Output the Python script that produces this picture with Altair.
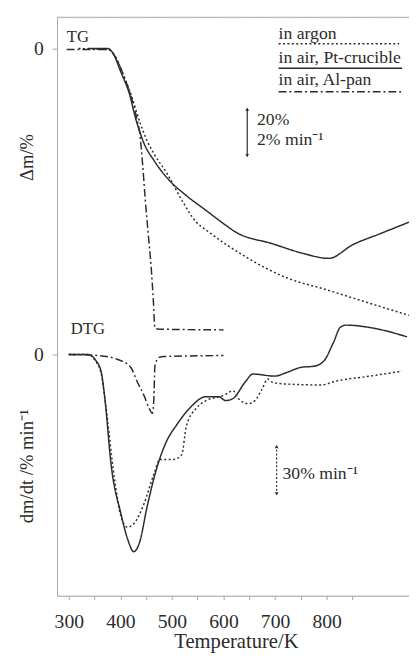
import altair as alt
import pandas as pd

FONT = "'Liberation Serif', 'Times New Roman', Times, serif"
INK = "#2b2b2b"
AXIS = "#a8a8a8"

# ---------- data ----------
# TG: temperature / K, mass change / %
tg_argon_T = [319, 376, 391, 406, 422, 439, 452, 465, 490, 522, 547, 566, 648, 724, 794, 903, 960]
tg_argon_v = [0, -0.4, -3.5, -10.6, -19.2, -30.2, -36.9, -42.0, -49.8, -61.6, -69.4, -72.5, -83.9, -91.8, -96.1, -103.1, -106.7]

tg_air_T = [338, 376, 386, 401, 418, 429, 437, 446, 465, 494, 528, 566, 604, 623, 694, 756, 804, 851, 903, 960]
tg_air_v = [0, 0, -2.0, -9.4, -18.4, -27.5, -32.9, -38.0, -44.7, -52.5, -58.8, -64.7, -70.6, -73.3, -78.0, -82.0, -83.9, -78.4, -74.1, -69.4]

tg_al_T = [296, 338, 376, 391, 406, 422, 433, 437, 443, 448, 454, 460, 464, 467, 475, 600]
tg_al_v = [-0.4, -0.4, -0.4, -3.5, -10.6, -20.0, -29.0, -32.9, -45.9, -59.6, -74.1, -88.2, -100.8, -111.8, -112.2, -112.5]

# DTG: temperature / K, dm/dt / % min-1
dtg_air_T = [300, 338, 351, 363, 370, 382, 401, 414, 426, 437, 452, 471, 490, 509, 534, 566, 591, 604, 618, 642,
             657, 699, 724, 751, 775, 794, 813, 827, 838, 889, 956]
dtg_air_v = [0, 0, -2.9, -10.4, -26.0, -64.6, -93.5, -108.5, -116.0, -110.8, -89.4, -66.4, -50.8, -41.5, -31.7,
             -24.8, -24.8, -27.1, -26.0, -16.2, -11.5, -12.7, -10.4, -7.5, -6.9, -4.0, 6.9, 16.2, 17.3, 15.6, 10.4]

dtg_argon_T = [300, 338, 351, 363, 370, 389, 401, 414, 427, 446, 465, 477, 503, 519, 528, 547, 566, 599, 619, 629,
               648, 661, 675, 686, 694, 718, 789, 819, 884, 946]
dtg_argon_v = [0, 0, -3.5, -11.5, -26.0, -73.9, -95.2, -101.6, -99.2, -87.7, -70.4, -61.7, -61.7, -58.9, -42.1,
               -31.7, -27.1, -24.2, -21.4, -26.0, -28.9, -27.1, -20.2, -14.4, -16.2, -17.3, -17.9, -15.6, -12.7, -9.8]

dtg_al_T = [300, 357, 395, 420, 433, 446, 456, 462, 465, 467, 475, 484, 600]
dtg_al_v = [0, -0.6, -2.9, -7.5, -16.2, -24.2, -31.7, -34.6, -26.0, -6.9, -1.7, -1.2, -0.6]

series_names = ["in argon", "in air, Pt-crucible", "in air, Al-pan"]
x_ticks = [300, 350, 400, 450, 500, 550, 600, 650, 700, 750, 800, 850]

# DTG curves share the plot with TG: placed below with their own zero and scale
DTG_OFFSET = -122.35      # where DTG zero sits, in TG % units
DTG_FACTOR = 0.6796       # (%/min) -> TG % units (30 %/min arrow vs 20 % arrow)

rows = []
def add(kind, name, T, v):
    for i, (t, val) in enumerate(zip(T, v)):
        y = val if kind == "TG" else DTG_OFFSET + val * DTG_FACTOR
        rows.append({"T": t, "y": y, "series": name, "curve": kind + name, "i": i})

add("TG", series_names[0], tg_argon_T, tg_argon_v)
add("TG", series_names[1], tg_air_T, tg_air_v)
add("TG", series_names[2], tg_al_T, tg_al_v)
add("DTG", series_names[0], dtg_argon_T, dtg_argon_v)
add("DTG", series_names[1], dtg_air_T, dtg_air_v)
add("DTG", series_names[2], dtg_al_T, dtg_al_v)
df = pd.DataFrame(rows)

W, H = 359, 590
dash_range = [[2, 2.5], [1, 0], [8, 3, 2, 3]]

lines = alt.Chart(df).mark_line(clip=True, strokeWidth=1.5, color=INK, interpolate="monotone").encode(
    x=alt.X("T:Q", scale=alt.Scale(domain=[277.2, 959.7], nice=False, zero=False),
            axis=alt.Axis(values=x_ticks, title=None, grid=False,
                          labelExpr="(datum.value % 100 == 0 && datum.value <= 800) ? datum.label : ''",
                          tickSize=4, tickColor=AXIS, domainColor=AXIS, labelFont=FONT, labelFontSize=20,
                          labelColor=INK, labelPadding=12, labelFontWeight="normal")),
    y=alt.Y("y:Q", scale=alt.Scale(domain=[-218.8, 12.5], nice=False, zero=False),
            axis=alt.Axis(values=[0, DTG_OFFSET], labelExpr="'0'", title=None, grid=False,
                          tickSize=5, tickColor=AXIS, domainColor=AXIS, labelFont=FONT, labelFontSize=20,
                          labelColor=INK, labelPadding=9)),
    strokeDash=alt.StrokeDash("series:N", scale=alt.Scale(domain=series_names, range=dash_range), legend=None),
    detail="curve:N",
    order="i:Q",
)

one = pd.DataFrame({"a": [0]})

def txt(s, x, y, size=18, align="left", angle=0, baseline="alphabetic"):
    return alt.Chart(one).mark_text(text=s, align=align, baseline=baseline, fontSize=size, font=FONT,
                                    color=INK, angle=angle).encode(x=alt.value(x), y=alt.value(y))

def hrule(x1, x2, y, dash, color=INK, w=1.4):
    return alt.Chart(one).mark_rule(color=color, strokeWidth=w, strokeDash=dash).encode(
        x=alt.value(x1), x2=alt.value(x2), y=alt.value(y))

def vrule(x, y1, y2, dash, w=1.2):
    return alt.Chart(one).mark_rule(color=INK, strokeWidth=w, strokeDash=dash).encode(
        x=alt.value(x), y=alt.value(y1), y2=alt.value(y2))

def head(x, y, shape):
    return alt.Chart(one).mark_point(shape=shape, filled=True, size=14, color=INK, opacity=1).encode(
        x=alt.value(x), y=alt.value(y))

layers = [
    hrule(0, W, 0, [1, 0], color=AXIS, w=1),
    lines,
    txt("TG", 10, 25, 17),
    txt("DTG", 14, 323, 17),
    # legend
    txt(series_names[0], 226, 22, 18),
    hrule(226, 349, 27, dash_range[0]),
    txt(series_names[1], 226, 47, 18),
    hrule(226, 352, 52, dash_range[1]),
    txt(series_names[2], 226, 69, 18),
    hrule(226, 351, 76, dash_range[2]),
    # scale bars
    vrule(194, 93, 142, [1, 0]),
    head(194, 94, "triangle-up"),
    head(194, 141, "triangle-down"),
    txt("20%", 204, 110, 18),
    txt("2% min⁻¹", 204, 130, 18),
    vrule(224, 437, 487, [2, 2]),
    head(224, 438, "triangle-up"),
    head(224, 486, "triangle-down"),
    txt("30% min⁻¹", 230, 471, 18),
    # axis titles
    txt("Δm/%", -31, 143, 19, align="center", angle=270, baseline="middle"),
    txt("dm/dt /% min⁻¹", -30, 458, 19, align="center", angle=270, baseline="middle"),
    txt("Temperature/K", 183, 643, 21, align="center"),
]

chart = alt.layer(*layers).properties(
    width=W, height=H,
    padding={"left": 50, "top": 3, "right": 0, "bottom": 55},
    autosize=alt.AutoSizeParams(type="none"),
).configure_view(stroke=None).configure(background="white")

chart.save("out.html", embed_options={"renderer": "svg", "actions": False})
